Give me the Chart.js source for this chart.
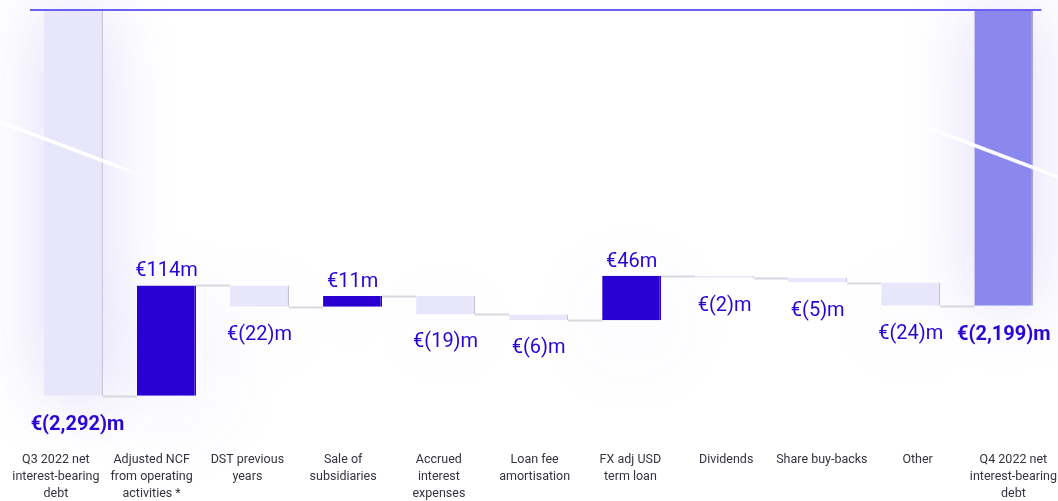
<!DOCTYPE html>
<html>
<head>
<meta charset="utf-8">
<script src="https://cdn.jsdelivr.net/npm/chart.js@4.4.1/dist/chart.umd.min.js"></script>
<style>
  html, body { margin: 0; padding: 0; background: #fff; overflow: hidden; }
  #wrap { width: 1064px; height: 501px; position: relative; }
</style>
</head>
<body>
<div id="wrap"><canvas id="chartBridge"></canvas></div>
<script>
// net interest-bearing debt bridge, EUR m
var categories = [
    ["Q3 2022 net", "interest-bearing", "debt"],
    ["Adjusted NCF", "from operating", "activities *"],
    ["DST previous", "years"],
    ["Sale of", "subsidiaries"],
    ["Accrued", "interest", "expenses"],
    ["Loan fee", "amortisation"],
    ["FX adj USD", "term loan"],
    ["Dividends"],
    ["Share buy-backs"],
    ["Other"],
    ["Q4 2022 net", "interest-bearing", "debt"]
];
var openingDebt = -2292;
var movements = [114, -22, 11, -19, -6, 46, -2, -5, -24];
var closingDebt = -2199;
var valueLabels = ["€(2,292)m", "€114m", "€(22)m", "€11m", "€(19)m", "€(6)m", "€46m", "€(2)m", "€(5)m", "€(24)m", "€(2,199)m"];

var yMin = -2342;
var yMax = -1893;

// build floating ranges
var ranges = [[yMax, openingDebt]];
var ends = [openingDebt];
var kinds = ['total'];
var running = openingDebt;
for (var i = 0; i < movements.length; i++) {
    var next = running + movements[i];
    ranges.push([running, next]);
    ends.push(next);
    kinds.push(movements[i] >= 0 ? 'up' : 'down');
    running = next;
}
ranges.push([yMax, closingDebt]);
ends.push(closingDebt);
kinds.push('closing');

var points = ranges.map(function (r, i) { return { x: i, y: r }; });

var fills = { total: '#e8e6fa', up: '#2a00d2', down: '#e8e6fa', closing: '#8a88ec' };
var edges = { total: '#c6c3d4', up: '#2a00d2', down: '#c6c3d4', closing: '#a9a6d8' };

var decor = {
    id: 'decor',
    beforeDatasetsDraw: function (chart) {
        var ctx = chart.ctx;
        var meta = chart.getDatasetMeta(0);
        var ys = chart.scales.y;
        ctx.save();
        // soft glow behind every bar
        meta.data.forEach(function (bar, i) {
            var tall = kinds[i] === 'total' || kinds[i] === 'closing';
            var top = Math.min(bar.y, bar.base), h = Math.max(Math.abs(bar.base - bar.y), 2);
            ctx.shadowColor = tall ? 'rgba(100,80,230,0.22)' : 'rgba(100,80,230,0.11)';
            ctx.shadowBlur = tall ? 70 : 100;
            ctx.shadowOffsetY = tall ? 0 : 20;
            ctx.fillStyle = '#ffffff';
            ctx.fillRect(bar.x - bar.width / 2, top, bar.width, h);
        });
        ctx.shadowColor = 'rgba(0,0,0,0)';
        ctx.shadowBlur = 0;
        ctx.shadowOffsetY = 0;
        // connectors
        ctx.strokeStyle = '#d8d7e0';
        ctx.lineWidth = 2;
        for (var i = 0; i < meta.data.length - 1; i++) {
            var a = meta.data[i], b = meta.data[i + 1];
            var y = Math.round(ys.getPixelForValue(ends[i])) + 0.5;
            ctx.beginPath();
            ctx.moveTo(a.x + a.width / 2, y);
            ctx.lineTo(b.x - b.width / 2, y);
            ctx.stroke();
        }
        ctx.restore();
    },
    afterDatasetsDraw: function (chart) {
        var ctx = chart.ctx;
        var area = chart.chartArea;
        var meta = chart.getDatasetMeta(0);
        var ys = chart.scales.y;
        var first = meta.data[0], last = meta.data[meta.data.length - 1];
        ctx.save();
        // top rule
        ctx.strokeStyle = '#6d5ff3';
        ctx.lineWidth = 2;
        ctx.beginPath();
        ctx.moveTo(first.x - first.width / 2 - 14, area.top);
        ctx.lineTo(last.x + last.width / 2 + 8, area.top);
        ctx.stroke();

        // white streaks
        function streak(x1, y1, x2, y2) {
            var g = ctx.createLinearGradient(x1, y1, x2, y2);
            g.addColorStop(0, 'rgba(255,255,255,0.95)');
            g.addColorStop(0.8, 'rgba(255,255,255,1)');
            g.addColorStop(1, 'rgba(255,255,255,0)');
            ctx.strokeStyle = g;
            ctx.lineWidth = 3.5;
            ctx.beginPath();
            ctx.moveTo(x1, y1);
            ctx.lineTo(x2, y2);
            ctx.stroke();
        }
        streak(0, 122, 146, 177);
        streak(1058, 177, 918, 124);

        // value labels
        ctx.fillStyle = '#2a05d3';
        ctx.textAlign = 'center';
        ctx.textBaseline = 'middle';
        meta.data.forEach(function (bar, i) {
            var k = kinds[i];
            var y;
            if (k === 'total' || k === 'closing') {
                ctx.font = 'bold 20px Roboto';
                y = ys.getPixelForValue(ends[i]) + 29;
            } else if (k === 'up') {
                ctx.font = '20px Roboto';
                y = ys.getPixelForValue(ends[i]) - 14;
            } else {
                ctx.font = '20px Roboto';
                y = ys.getPixelForValue(ends[i]) + 28;
            }
            ctx.fillText(valueLabels[i], bar.x + (i === 0 ? 4 : 0), y);
        });
        ctx.restore();
    }
};

var ctx = document.getElementById('chartBridge').getContext('2d');
var bridgeChart = new Chart(ctx, {
    type: 'bar',
    data: {
        labels: categories,
        datasets: [{
            data: points,
            xAxisID: 'xb',
            backgroundColor: kinds.map(function (k) { return fills[k]; }),
            borderColor: kinds.map(function (k) { return edges[k]; }),
            borderWidth: { top: 0, left: 0, bottom: 0, right: 1.5 },
            borderSkipped: false,
            barPercentage: 0.634,
            categoryPercentage: 1
        }]
    },
    options: {
        responsive: true,
        maintainAspectRatio: false,
        animation: false,
        layout: { padding: { left: 8, right: 2, top: 10, bottom: -8 } },
        plugins: {
            legend: { display: false },
            tooltip: { enabled: false }
        },
        scales: {
            x: {
                type: 'category',
                offset: true,
                grid: { display: false, drawTicks: false },
                border: { display: false },
                ticks: {
                    autoSkip: false,
                    maxRotation: 0,
                    padding: 7,
                    color: '#33343f',
                    font: { family: 'Roboto', size: 12.5, lineHeight: 1.36 }
                }
            },
            xb: {
                type: 'linear',
                display: false,
                offset: false,
                min: -0.7035,
                max: 10.6176
            },
            y: {
                display: false,
                min: yMin,
                max: yMax
            }
        }
    },
    plugins: [decor]
});
</script>
</body>
</html>
